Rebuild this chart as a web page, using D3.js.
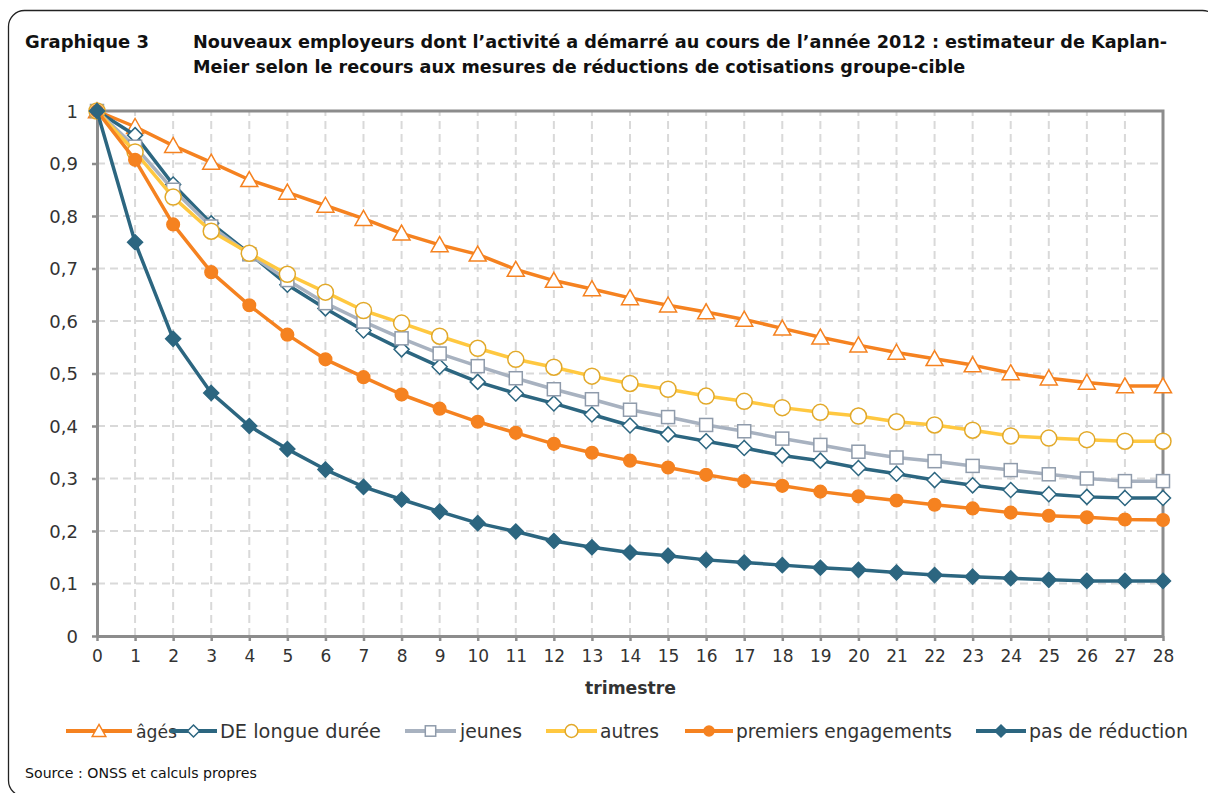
<!DOCTYPE html>
<html><head><meta charset="utf-8">
<script src="https://cdn.jsdelivr.net/npm/d3@7"></script>
<style>body{margin:0;background:#fff}svg{display:block}</style>
</head><body><svg id="c" width="1208" height="793"></svg>
<script>
// ---- data ----
const trimestres = d3.range(0, 29);
const ages     = [1, 0.970, 0.934, 0.902, 0.869, 0.845, 0.820, 0.795, 0.767, 0.745, 0.727, 0.698, 0.677, 0.661, 0.644, 0.630, 0.617, 0.603, 0.586, 0.569, 0.554, 0.540, 0.528, 0.516, 0.501, 0.491, 0.483, 0.476, 0.476];
const deLongue = [1, 0.954, 0.860, 0.786, 0.729, 0.669, 0.624, 0.582, 0.546, 0.513, 0.484, 0.462, 0.443, 0.422, 0.401, 0.384, 0.371, 0.358, 0.344, 0.334, 0.320, 0.309, 0.297, 0.287, 0.278, 0.270, 0.265, 0.263, 0.263];
const jeunes   = [1, 0.932, 0.850, 0.780, 0.727, 0.678, 0.634, 0.599, 0.567, 0.538, 0.514, 0.491, 0.470, 0.451, 0.431, 0.417, 0.402, 0.390, 0.376, 0.364, 0.351, 0.340, 0.333, 0.324, 0.316, 0.308, 0.300, 0.295, 0.295];
const autres   = [1, 0.922, 0.836, 0.771, 0.729, 0.689, 0.655, 0.620, 0.596, 0.571, 0.548, 0.527, 0.512, 0.495, 0.481, 0.470, 0.457, 0.447, 0.435, 0.426, 0.419, 0.408, 0.402, 0.392, 0.381, 0.377, 0.374, 0.371, 0.371];
const premiers = [1, 0.907, 0.784, 0.693, 0.630, 0.574, 0.527, 0.493, 0.460, 0.433, 0.408, 0.387, 0.366, 0.349, 0.334, 0.321, 0.307, 0.295, 0.286, 0.275, 0.266, 0.258, 0.250, 0.243, 0.235, 0.229, 0.226, 0.222, 0.221];
const pasReduc = [1, 0.750, 0.566, 0.463, 0.400, 0.356, 0.317, 0.284, 0.260, 0.237, 0.215, 0.199, 0.181, 0.169, 0.159, 0.153, 0.145, 0.140, 0.135, 0.130, 0.126, 0.121, 0.116, 0.113, 0.110, 0.107, 0.105, 0.105, 0.105];
const seriesNames = ["âgés", "DE longue durée", "jeunes", "autres", "premiers engagements", "pas de réduction"];
const yTickValues = [0, 0.1, 0.2, 0.3, 0.4, 0.5, 0.6, 0.7, 0.8, 0.9, 1];
const titleLabel = "Graphique 3";
const titleLines = ["Nouveaux employeurs dont l’activité a démarré au cours de l’année 2012 : estimateur de Kaplan-",
                    "Meier selon le recours aux mesures de réductions de cotisations groupe-cible"];
const xAxisTitle = "trimestre";
const sourceText = "Source : ONSS et calculs propres";

// ---- styles ----
const ORANGE = "#f58220", TEAL = "#2c6680", GREY = "#a8b2c0", YELLOW = "#ffc840";
const seriesStyle = [
  {line: ORANGE, marker: "triangle", stroke: ORANGE, fill: "#fff"},
  {line: TEAL,   marker: "diamond",  stroke: TEAL,   fill: "#fff"},
  {line: GREY,   marker: "square",   stroke: "#8f9bab", fill: "#fff"},
  {line: YELLOW, marker: "circle",   stroke: "#e2a92a", fill: "#fff"},
  {line: ORANGE, marker: "circle",   stroke: ORANGE, fill: ORANGE, small: true},
  {line: TEAL,   marker: "diamond",  stroke: TEAL,   fill: TEAL}
];
const seriesValues = [ages, deLongue, jeunes, autres, premiers, pasReduc];

const svg = d3.select("#c");
const FONT = "'DejaVu Sans', Verdana, sans-serif";
const TXT = "#333";

svg.append("rect").attr("width", 1208).attr("height", 793).attr("fill", "#fff");
// outer frame
svg.append("rect").attr("x", 8.5).attr("y", 10.5).attr("width", 1210).attr("height", 786)
  .attr("rx", 16).attr("fill", "none").attr("stroke", "#222").attr("stroke-width", 1.3);

function fit(sel, target) {
  const w = sel.node().getComputedTextLength();
  const fs = parseFloat(sel.attr("font-size"));
  sel.attr("font-size", (fs * target / w).toFixed(2));
}

// title
const tg = svg.append("g").attr("font-family", FONT).attr("font-weight", "bold").attr("fill", "#111");
fit(tg.append("text").attr("x", 25).attr("y", 48).attr("font-size", 16).text(titleLabel), 124);
fit(tg.append("text").attr("x", 193).attr("y", 48).attr("font-size", 16).text(titleLines[0]), 975);
fit(tg.append("text").attr("x", 193).attr("y", 73).attr("font-size", 16).text(titleLines[1]), 773);

// scales
const x = d3.scaleLinear().domain([0, 28]).range([97, 1163]);
const y = d3.scaleLinear().domain([0, 1]).range([636, 111]);

// grid
const grid = svg.append("g").attr("stroke", "#d9d9d9").attr("stroke-width", 2).attr("stroke-dasharray", "8,5");
grid.selectAll(".h").data(yTickValues.filter(v => v > 0 && v < 1)).join("line")
  .attr("x1", x(0)).attr("x2", x(28)).attr("y1", d => y(d)).attr("y2", d => y(d));
grid.selectAll(".v").data(trimestres.filter(t => t > 0 && t < 28)).join("line")
  .attr("y1", y(0)).attr("y2", y(1)).attr("x1", d => x(d)).attr("x2", d => x(d));

// frame lines of plot (top and right)
const AX = "#8c8c8c";
svg.append("path").attr("d", `M${x(0)},${y(1)}H${x(28)}V${y(0)}`)
  .attr("fill", "none").attr("stroke", AX).attr("stroke-width", 3);

// axes
const fmt = d => d === 0 ? "0" : d === 1 ? "1" : d3.format(".1f")(d).replace(".", ",");
const yAxis = svg.append("g").attr("transform", `translate(${x(0)},0)`)
  .call(d3.axisLeft(y).tickValues(yTickValues).tickFormat(fmt).tickSizeInner(5).tickSizeOuter(0).tickPadding(14));
const xAxis = svg.append("g").attr("transform", `translate(0,${y(0)})`)
  .call(d3.axisBottom(x).tickValues(trimestres).tickFormat(d3.format("d")).tickSizeInner(5).tickSizeOuter(0).tickPadding(9));
[yAxis, xAxis].forEach(a => {
  a.select(".domain").attr("stroke", AX).attr("stroke-width", 3);
  a.selectAll(".tick line").attr("stroke", AX).attr("stroke-width", 2.5);
  a.selectAll(".tick text").attr("fill", TXT).attr("font-family", FONT);
});
yAxis.selectAll(".tick text").attr("font-size", 18).attr("dy", "0.36em");
xAxis.selectAll(".tick text").attr("font-size", 17);

// x axis title
fit(svg.append("text").attr("x", 585).attr("y", 694).attr("font-family", FONT).attr("font-weight", "bold")
  .attr("font-size", 16).attr("fill", TXT).text(xAxisTitle), 91);

// markers
function drawMarker(g, type, st, scale) {
  const s = scale || 1;
  if (type === "triangle") {
    const w = 8.5 * s, h = 15 * s;
    g.append("path").attr("d", `M0,${-h * 0.55}L${w},${h * 0.45}L${-w},${h * 0.45}Z`)
      .attr("fill", st.fill).attr("stroke", st.stroke).attr("stroke-width", 1.5);
  } else if (type === "diamond") {
    const r = 7.5 * s;
    g.append("path").attr("d", `M0,${-r}L${r},0L0,${r}L${-r},0Z`)
      .attr("fill", st.fill).attr("stroke", st.stroke).attr("stroke-width", 1.5);
  } else if (type === "square") {
    const r = 6.5 * s;
    g.append("rect").attr("x", -r).attr("y", -r).attr("width", 2 * r).attr("height", 2 * r)
      .attr("fill", st.fill).attr("stroke", st.stroke).attr("stroke-width", 1.5);
  } else if (type === "circle") {
    const r = (st.small ? 6.3 : 8) * s;
    g.append("circle").attr("r", r).attr("fill", st.fill).attr("stroke", st.stroke).attr("stroke-width", 1.5);
  }
}

const line = d3.line().x((d, i) => x(trimestres[i])).y(d => y(d));
seriesValues.forEach((vals, si) => {
  const st = seriesStyle[si];
  const g = svg.append("g");
  g.append("path").attr("d", line(vals)).attr("fill", "none").attr("stroke", st.line)
    .attr("stroke-width", 3.5).attr("stroke-linejoin", "round");
  vals.forEach((v, i) => {
    const m = g.append("g").attr("transform", `translate(${x(trimestres[i])},${y(v)})`);
    drawMarker(m, st.marker, st);
  });
});

// legend
const legendItems = [
  {x1: 66, x2: 132, tx: 136, w: 41},
  {x1: 170, x2: 217, tx: 220, w: 161},
  {x1: 405, x2: 456, tx: 460, w: 62},
  {x1: 546, x2: 597, tx: 600, w: 59},
  {x1: 685, x2: 733, tx: 736, w: 216},
  {x1: 976, x2: 1026, tx: 1029, w: 159}
];
const LY = 731;
const lg = svg.append("g");
legendItems.forEach((it, i) => {
  const st = seriesStyle[i];
  lg.append("line").attr("x1", it.x1).attr("x2", it.x2).attr("y1", LY).attr("y2", LY)
    .attr("stroke", st.line).attr("stroke-width", 4);
  const m = lg.append("g").attr("transform", `translate(${(it.x1 + it.x2) / 2},${LY})`);
  drawMarker(m, st.marker, st, 0.8);
  const t = lg.append("text").attr("x", it.tx).attr("y", LY + 7).attr("font-family", FONT)
    .attr("font-size", 19).attr("fill", TXT).text(seriesNames[i]);
  fit(t, it.w);
});

// source
fit(svg.append("text").attr("x", 25).attr("y", 778).attr("font-family", FONT).attr("font-size", 13)
  .attr("fill", "#111").text(sourceText), 232);
</script></body></html>
